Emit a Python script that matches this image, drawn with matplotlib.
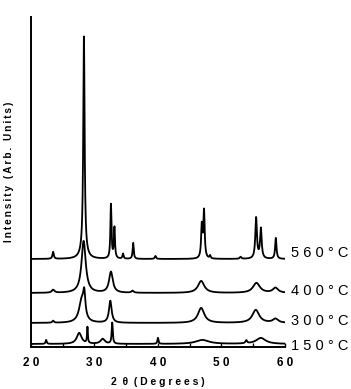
import numpy as np
import matplotlib.pyplot as plt

# XRD patterns of the powders annealed at different temperatures
# peaks: position (2 theta), height above baseline, FWHM
TEMPS = ["1 5 0 ° C", "3 0 0 ° C", "4 0 0 ° C", "5 6 0 ° C"]
OFFSETS = [3, 24, 54, 88]
LABEL_Y = [1, 26, 56, 94]

pos_150 = [22.4, 27.6, 28.9, 31.3, 32.8, 40.0, 47.0, 53.9, 56.2]
hgt_150 = [4, 11, 16, 5, 21, 6, 4, 3, 6]
fwhm_150 = [0.2, 0.9, 0.15, 0.8, 0.2, 0.2, 2.5, 0.3, 1.8]

pos_300 = [23.5, 28.0, 28.4, 32.5, 46.8, 55.4, 58.5]
hgt_300 = [2, 22, 22, 22, 15, 13, 4]
fwhm_300 = [0.3, 1.0, 0.4, 0.5, 1.2, 1.3, 1.0]

pos_400 = [23.5, 28.3, 32.6, 36.0, 46.8, 55.5, 58.5]
hgt_400 = [3, 52, 21, 2, 12, 10, 5]
fwhm_400 = [0.5, 0.8, 0.7, 0.4, 1.2, 1.3, 1.0]

pos_560 = [23.5, 28.35, 28.3, 32.6, 33.15, 34.5, 36.1, 39.6, 46.9, 47.25, 48.2, 53.0, 55.45, 56.2, 58.55]
hgt_560 = [7, 216, 8, 54, 31, 5, 16, 3, 32, 47, 3, 2, 41, 30, 21]
fwhm_560 = [0.25, 0.25, 1.0, 0.2, 0.2, 0.2, 0.2, 0.25, 0.25, 0.25, 0.2, 0.3, 0.3, 0.3, 0.25]

PEAKS = [(pos_150, hgt_150, fwhm_150),
         (pos_300, hgt_300, fwhm_300),
         (pos_400, hgt_400, fwhm_400),
         (pos_560, hgt_560, fwhm_560)]

two_theta = np.linspace(20, 60, 2001)


def pattern(pos, hgt, fwhm):
    # sum of lorentzian peaks
    y = np.zeros_like(two_theta)
    for p, h, w in zip(pos, hgt, fwhm):
        y += h / (1 + ((two_theta - p) / (w / 2)) ** 2)
    return y


def spaced(s):
    # letter spacing with thin spaces
    return "\u2009".join(s)


plt.rcParams['font.family'] = ['Liberation Sans', 'DejaVu Sans']

fig = plt.figure(figsize=(3.51, 3.89), dpi=100)
ax = fig.add_axes([0.088, 0.108, 0.724, 0.848])

for (pos, hgt, fwhm), off in zip(PEAKS, OFFSETS):
    ax.plot(two_theta, pattern(pos, hgt, fwhm) + off, color='black', lw=1.3)

for name, ly in zip(TEMPS, LABEL_Y):
    ax.text(61.0, ly, name, fontsize=10.5, va='center', ha='left', clip_on=False)

ax.set_xlim(20, 60)
ax.set_ylim(0, 330)
ax.set_xticks([20, 30, 40, 50, 60])
ax.set_xticklabels(["2 0", "3 0", "4 0", "5 0", "6 0"], fontsize=8.5, fontweight='bold')
ax.set_xticks([25, 35, 45, 55], minor=True)
ax.set_yticks([])
ax.tick_params(axis='x', which='both', direction='in', length=3, width=1, pad=7)

ax.spines['top'].set_visible(False)
ax.spines['right'].set_visible(False)
ax.spines['left'].set_linewidth(1.4)
ax.spines['bottom'].set_linewidth(1.4)

ax.set_xlabel("2  θ  ( D e g r e e s )", fontsize=7.5, fontweight='bold', labelpad=6)
ax.set_ylabel(spaced("Intensity (Arb. Units)"), fontsize=7.2, fontweight='bold')
ax.yaxis.set_label_coords(-0.065, 0.53)

fig.savefig("out.png", dpi=100)
